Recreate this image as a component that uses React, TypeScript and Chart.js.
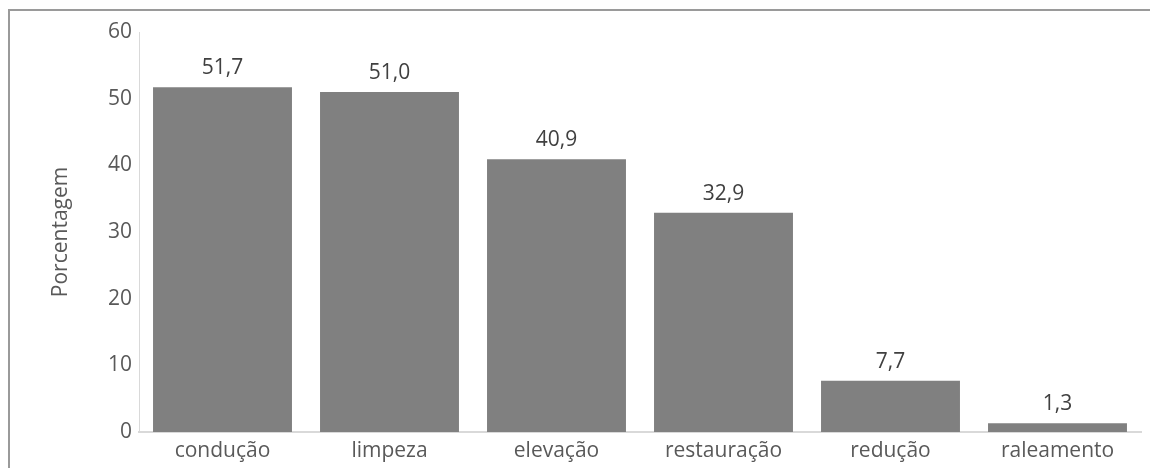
import React, { useEffect, useRef } from "react";
import { Chart, registerables } from "chart.js";

Chart.register(...registerables);

// Percentages per management practice
const categories: string[] = ["condução", "limpeza", "elevação", "restauração", "redução", "raleamento"];
const values: number[] = [51.7, 51.0, 40.9, 32.9, 7.7, 1.3];
const yTicks: number[] = [0, 10, 20, 30, 40, 50, 60];

const FONT = "'Open Sans', 'DejaVu Sans', sans-serif";
const FONT_SIZE = 21;
const AXIS_TEXT = "#595959";
const LABEL_TEXT = "#404040";
const BAR_COLOR = "#808080";
const AXIS_LINE = "#d9d9d9";

// Writes each bar's value (decimal comma) just above the bar
const valueLabels = {
  id: "valueLabels",
  afterDatasetsDraw(chart: any) {
    const { ctx } = chart;
    const meta = chart.getDatasetMeta(0);
    ctx.save();
    ctx.font = `${FONT_SIZE}px ${FONT}`;
    ctx.fillStyle = LABEL_TEXT;
    ctx.textAlign = "center";
    ctx.textBaseline = "alphabetic";
    meta.data.forEach((bar: any, i: number) => {
      const text = values[i].toFixed(1).replace(".", ",");
      ctx.fillText(text, bar.x, bar.y - 13);
    });
    ctx.restore();
  },
};

export default function App() {
  const canvasRef = useRef<HTMLCanvasElement | null>(null);

  useEffect(() => {
    if (!canvasRef.current) return;
    const chart = new Chart(canvasRef.current, {
      type: "bar",
      data: {
        labels: categories,
        datasets: [
          {
            data: values,
            backgroundColor: BAR_COLOR,
            borderWidth: 0,
            barPercentage: 0.832,
            categoryPercentage: 1,
          },
        ],
      },
      options: {
        animation: false,
        responsive: false,
        maintainAspectRatio: false,
        layout: { padding: { left: 0, right: 9, top: 32, bottom: 0 } },
        plugins: {
          legend: { display: false },
          tooltip: { enabled: false },
        },
        scales: {
          x: {
            grid: { display: false, drawTicks: false },
            border: { display: true, color: AXIS_LINE, width: 2 },
            ticks: {
              color: AXIS_TEXT,
              font: { family: FONT, size: FONT_SIZE },
              padding: 6,
              maxRotation: 0,
            },
            afterFit: (scale: any) => {
              scale.height = 36;
            },
          },
          y: {
            min: 0,
            max: 60,
            grid: { display: false, drawTicks: false },
            border: { display: true, color: AXIS_LINE, width: 1 },
            afterBuildTicks: (scale: any) => {
              scale.ticks = yTicks.map((v) => ({ value: v }));
            },
            ticks: {
              color: AXIS_TEXT,
              font: { family: FONT, size: FONT_SIZE },
              padding: 7,
            },
            title: {
              display: true,
              text: "Porcentagem",
              color: AXIS_TEXT,
              font: { family: FONT, size: FONT_SIZE },
              padding: { top: 48, bottom: 0 },
            },
            afterFit: (scale: any) => {
              scale.width = 139;
            },
          },
        },
      },
      plugins: [valueLabels],
    });
    return () => chart.destroy();
  }, []);

  return (
    <div
      style={{
        position: "fixed",
        left: 0,
        top: 0,
        width: 1150,
        height: 468,
        background: "#ffffff",
        overflow: "hidden",
      }}
    >
      <div
        style={{
          position: "absolute",
          left: 8,
          top: 9,
          width: 1160,
          height: 480,
          borderTop: "2px solid #9a9a9a",
          borderLeft: "2px solid #9a9a9a",
          boxSizing: "border-box",
        }}
      />
      <canvas
        ref={canvasRef}
        width={1150}
        height={468}
        style={{ position: "absolute", left: 0, top: 0, width: 1150, height: 468 }}
      />
    </div>
  );
}
